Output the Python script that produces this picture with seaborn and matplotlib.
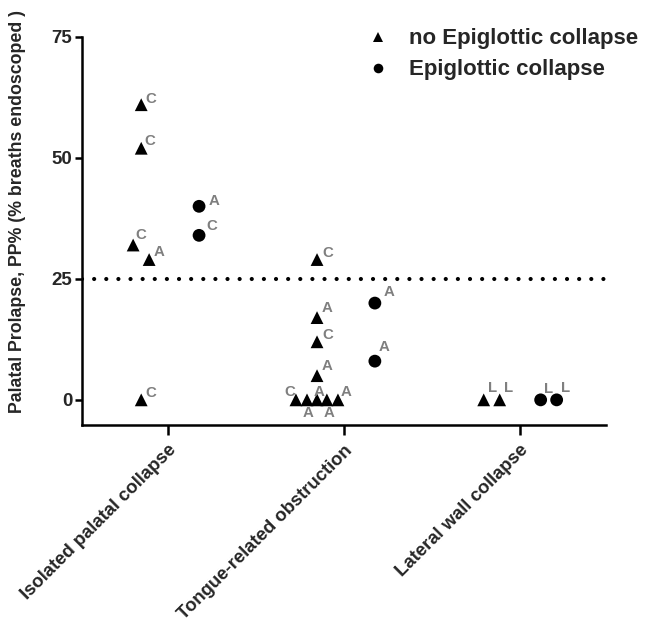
import matplotlib
matplotlib.use("Agg")
import matplotlib.pyplot as plt
import seaborn as sns
import pandas as pd
import numpy as np

categories = ["Isolated palatal collapse", "Tongue-related obstruction", "Lateral wall collapse"]
groups = ["no Epiglottic collapse", "Epiglottic collapse"]

# per-point data
pt_category = [0, 0, 0, 0, 0, 0, 0,
               1, 1, 1, 1, 1, 1, 1, 1, 1, 1, 1,
               2, 2, 2, 2]
pt_group = [0, 0, 0, 0, 0, 1, 1,
            0, 0, 0, 0, 0, 0, 0, 0, 0, 1, 1,
            0, 0, 1, 1]
pt_value = [61, 52, 32, 29, 0, 40, 34,
            29, 17, 12, 5, 0, 0, 0, 0, 0, 20, 8,
            0, 0, 0, 0]
pt_label = ["C", "C", "C", "A", "C", "A", "C",
            "C", "A", "C", "A", "C", "A", "A", "A", "A", "A", "A",
            "L", "L", "L", "L"]
# horizontal scatter offsets within a category (layout)
pt_offset = [-0.153, -0.153, -0.199, -0.108, -0.153, 0.176, 0.176,
             -0.153, -0.153, -0.153, -0.153, -0.273, -0.21, -0.153, -0.097, -0.034, 0.176, 0.176,
             -0.205, -0.114, 0.119, 0.21]
# label centre placement relative to the marker (pixels, y up)
lab_off_px = [(10, 6), (9, 7), (8, 10), (10, 8), (10, 7), (15, 5), (13, 9),
              (11, 7), (10, 10), (11, 7), (10, 10),
              (-6, 8), (1, -13), (2, 8), (2, -13), (8, 8),
              (14, 11), (9, 14),
              (9, 12), (9, 12), (8, 11), (9, 12)]

df = pd.DataFrame({
    "x": np.array(pt_category) + np.array(pt_offset),
    "y": pt_value,
    "group": [groups[g] for g in pt_group],
    "label": pt_label,
})

sns.set_style("white")
plt.rcParams['font.family'] = ['Liberation Sans', 'DejaVu Sans']

fig = plt.figure(figsize=(6.48, 6.32), dpi=100)
ax = fig.add_axes([0.1265, 0.3275, 0.8085, 0.614])

sns.scatterplot(data=df, x="x", y="y", style="group", style_order=groups,
                markers={groups[0]: "^", groups[1]: "o"}, color="black",
                s=85, edgecolor="black", linewidth=0, ax=ax, legend=True, clip_on=False)

for i in range(len(df)):
    dx, dy = lab_off_px[i]
    ax.annotate(df["label"][i], (df["x"][i], df["y"][i]), xytext=(dx * 0.72, dy * 0.72),
                textcoords="offset points", color="#7f7f7f", fontsize=10.8,
                fontweight="bold", ha="center", va="center")

ax.axhline(25, color="black", linestyle=(0, (0.01, 2.9)), linewidth=3, dash_capstyle="round")

ax.set_xlim(-0.49, 2.49)
ax.set_ylim(-5.2, 75)
ax.set_yticks([0, 25, 50, 75])
ax.set_yticklabels(["0", "25", "50", "75"], fontsize=13.5, fontweight="bold")
ax.set_xticks([0, 1, 2])
ax.set_xticklabels(categories, rotation=45, ha="right", rotation_mode="anchor",
                   fontsize=13.3, fontweight="bold")
ax.set_xlabel("")
ax.set_ylabel("Palatal Prolapse, PP% (% breaths endoscoped )", fontsize=12.8,
              fontweight="bold")
ax.yaxis.set_label_coords(-0.107, 0.549)

for side in ["top", "right"]:
    ax.spines[side].set_visible(False)
for side in ["left", "bottom"]:
    ax.spines[side].set_linewidth(1.8)
    ax.spines[side].set_color("black")
ax.tick_params(axis="both", which="major", length=6, width=1.8, direction="out",
               color="black", left=True, bottom=True)
ax.tick_params(axis="x", length=7, pad=5)
ax.tick_params(axis="y", length=5, pad=2)

leg = ax.legend(loc="upper left", bbox_to_anchor=(0.523, 1.045), frameon=False,
                prop={"weight": "bold", "size": 16}, handletextpad=0.8, handlelength=1.2,
                labelspacing=0.45, markerscale=0.75, borderaxespad=0)

fig.savefig("out.png", dpi=100)
